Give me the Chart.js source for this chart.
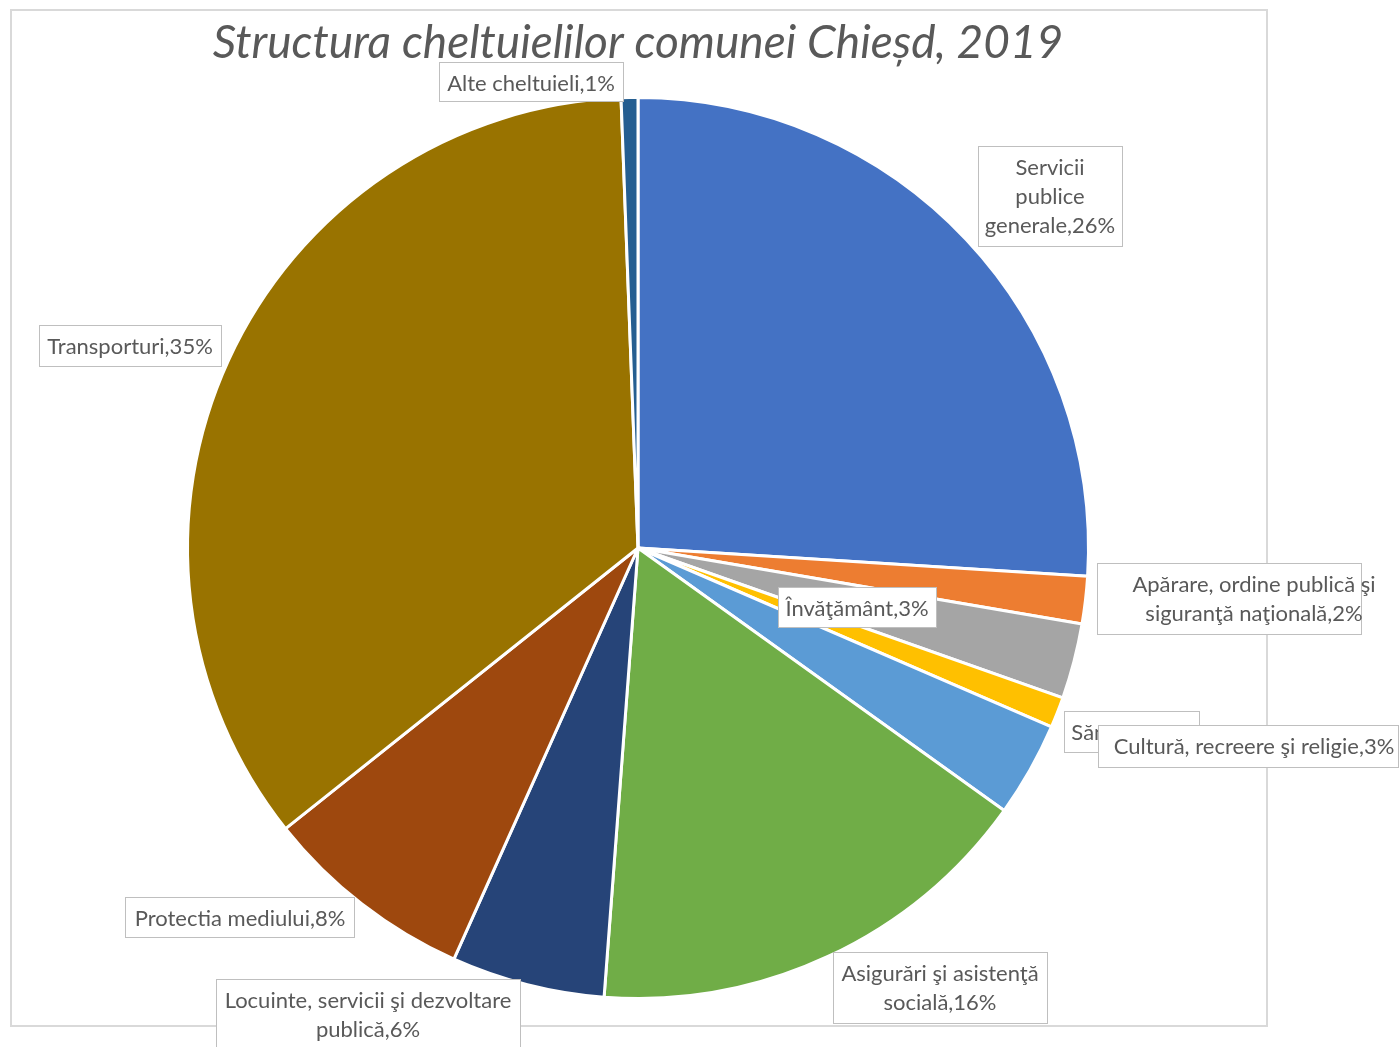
<!DOCTYPE html>
<html>
<head>
<meta charset="utf-8">
<script src="https://cdn.jsdelivr.net/npm/chart.js@4.4.1/dist/chart.umd.min.js"></script>
<style>
  html, body { margin: 0; padding: 0; background: #fff; }
  #wrap { width: 1400px; height: 1047px; position: relative; }
</style>
</head>
<body>
<div id="wrap"><canvas id="pie" width="1400" height="1047"></canvas></div>
<script>
// Date
const categories = [
  'Servicii publice generale',
  'Apărare, ordine publică şi siguranţă naţională',
  'Învăţământ',
  'Sănătate',
  'Cultură, recreere şi religie',
  'Asigurări şi asistenţă socială',
  'Locuinte, servicii şi dezvoltare publică',
  'Protectia mediului',
  'Transporturi',
  'Alte cheltuieli'
];
const shares = [26.0, 1.7, 2.7, 1.1, 3.4, 16.3, 5.5, 7.6, 35.1, 0.6];
const percentLabels = ['26%', '2%', '3%', '1%', '3%', '16%', '6%', '8%', '35%', '1%'];
const sliceColors = ['#4472C4', '#ED7D31', '#A5A5A5', '#FFC000', '#5B9BD5',
                     '#70AD47', '#264478', '#9E480E', '#997300', '#255E91'];

const chartTitle = 'Structura cheltuielilor comunei Chieșd, 2019';

// Pozitii etichete (cutii) - words = cate cuvinte pe fiecare rand
const labelBoxes = [
  { i: 0, x: 978, y: 146, w: 144, h: 100, cx: 1050, words: [1, 1, 1] },
  { i: 1, x: 1097, y: 563, w: 264, h: 71, cx: 1254, words: [4, 2] },
  { i: 2, x: 778, y: 587, w: 158, h: 40, cx: 857, words: [1] },
  { i: 3, x: 1064, y: 711, w: 135, h: 41, cx: 1131, words: [1] },
  { i: 4, x: 1098, y: 725, w: 300, h: 42, cx: 1254, words: [4] },
  { i: 5, x: 833, y: 952, w: 214, h: 71, cx: 940, words: [3, 1] },
  { i: 6, x: 216, y: 979, w: 304, h: 80, cx: 368, words: [4, 1] },
  { i: 7, x: 125, y: 897, w: 229, h: 40, cx: 240, words: [2] },
  { i: 8, x: 39, y: 325, w: 182, h: 41, cx: 130, words: [1] },
  { i: 9, x: 439, y: 62, w: 184, h: 39, cx: 531, words: [2] }
];

const FONT = "Lato, 'Open Sans', sans-serif";

// Rama si titlul
const framePlugin = {
  id: 'frame',
  beforeDraw(chart) {
    const ctx = chart.ctx;
    ctx.save();
    ctx.fillStyle = '#fff';
    ctx.fillRect(0, 0, chart.width, chart.height);
    ctx.strokeStyle = '#d9d9d9';
    ctx.lineWidth = 2;
    ctx.strokeRect(11, 10, 1256, 1016);
    ctx.restore();
  },
  afterDraw(chart) {
    const ctx = chart.ctx;
    ctx.save();
    ctx.fillStyle = '#595959';
    ctx.font = 'italic 46px ' + FONT;
    ctx.textAlign = 'center';
    ctx.textBaseline = 'middle';
    ctx.fillText(chartTitle, 638, 43);
    ctx.restore();
  }
};

// Etichetele de date
const labelPlugin = {
  id: 'boxLabels',
  afterDraw(chart) {
    const ctx = chart.ctx;
    ctx.save();
    ctx.font = '22px ' + FONT;
    ctx.textAlign = 'center';
    ctx.textBaseline = 'middle';
    labelBoxes.forEach(b => {
      const text = categories[b.i] + ',' + percentLabels[b.i];
      const tokens = text.split(' ');
      const lines = [];
      let k = 0;
      b.words.forEach((n, j) => {
        const cnt = j === b.words.length - 1 ? tokens.length - k : n;
        lines.push(tokens.slice(k, k + cnt).join(' '));
        k += cnt;
      });
      ctx.fillStyle = '#fff';
      ctx.fillRect(b.x, b.y, b.w, b.h);
      ctx.strokeStyle = '#bfbfbf';
      ctx.lineWidth = 1;
      ctx.strokeRect(b.x + 0.5, b.y + 0.5, b.w, b.h);
      ctx.fillStyle = '#595959';
      const lh = 29;
      const y0 = b.y + 22;
      lines.forEach((ln, j) => ctx.fillText(ln, b.cx, y0 + j * lh));
    });
    ctx.restore();
  }
};

new Chart(document.getElementById('pie'), {
  type: 'pie',
  data: {
    labels: categories,
    datasets: [{
      data: shares,
      backgroundColor: sliceColors,
      borderColor: '#fff',
      borderWidth: 3
    }]
  },
  options: {
    responsive: false,
    animation: false,
    layout: { padding: { left: 186, right: 310, top: 96, bottom: 47 } },
    plugins: {
      legend: { display: false },
      tooltip: { enabled: false },
      title: { display: false }
    }
  },
  plugins: [framePlugin, labelPlugin]
});
</script>
</body>
</html>
